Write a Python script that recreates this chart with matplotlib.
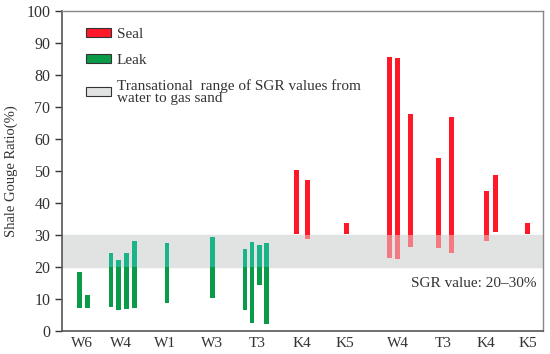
import matplotlib.pyplot as plt
from matplotlib.patches import Patch
import numpy as np

plt.rcParams['font.family'] = ['Liberation Serif', 'DejaVu Serif']

# x-axis groups (positions along the section)
group_labels = ['W6', 'W4', 'W1', 'W3', 'T3', 'K4', 'K5', 'W4', 'T3', 'K4', 'K5']
group_pos = [19.7, 58.7, 103, 149.7, 194.7, 239.7, 283, 336, 380.7, 424, 465.7]

# leak (green) bars: position, bottom, top of SGR range (%)
leak_x = [17.5, 25.2, 48.8, 56.5, 64.2, 72.2, 105, 150.3, 182.7, 189.7, 197, 204]
leak_lo = [7.3, 7.1, 7.5, 6.5, 7.0, 7.3, 8.7, 10.4, 6.6, 2.6, 14.4, 2.3]
leak_hi = [18.4, 11.2, 24.3, 22.3, 24.3, 28.2, 27.6, 29.4, 25.5, 27.9, 27.0, 27.6]

# seal (red) bars
seal_x = [234.7, 245.5, 284.3, 326.7, 335.3, 348.2, 376.5, 389.5, 424, 433.5, 465.5]
seal_lo = [30.4, 28.7, 30.4, 22.7, 22.5, 26.4, 25.9, 24.4, 28.1, 30.9, 30.4]
seal_hi = [50.4, 47.3, 33.6, 85.5, 85.3, 67.9, 54.0, 66.9, 43.8, 48.9, 33.6]

band_lo, band_hi = 20, 30

fig = plt.figure(figsize=(5.5, 3.54), dpi=100)
ax = fig.add_axes([0.113, 0.065, 0.875, 0.904])

ax.axhspan(band_lo, band_hi, color='#e1e3e3', zorder=1)


def draw_bars(xs, lo, hi, col, col_band, w):
    xs, lo, hi = np.array(xs), np.array(lo), np.array(hi)
    # part below band
    b_top = np.minimum(hi, band_lo)
    m = b_top > lo
    ax.bar(xs[m], (b_top - lo)[m], bottom=lo[m], width=w, color=col, zorder=2)
    # part inside band (lighter)
    i_lo = np.maximum(lo, band_lo)
    i_hi = np.minimum(hi, band_hi)
    m = i_hi > i_lo
    ax.bar(xs[m], (i_hi - i_lo)[m], bottom=i_lo[m], width=w, color=col_band, zorder=2)
    # part above band
    a_lo = np.maximum(lo, band_hi)
    m = hi > a_lo
    ax.bar(xs[m], (hi - a_lo)[m], bottom=a_lo[m], width=w, color=col, zorder=2)


draw_bars(leak_x, leak_lo, leak_hi, '#0a9b48', '#1bb38a', 4.5)
draw_bars(seal_x, seal_lo, seal_hi, '#fe1828', '#f47a82', 5)

ax.set_xlim(0, 481)
ax.set_ylim(0, 100)
ax.set_yticks(np.arange(0, 101, 10))
ax.set_xticks(group_pos)
ax.set_xticklabels(group_labels)
ax.tick_params(axis='x', length=0, labelsize=11, colors='#333333', pad=4)
ax.tick_params(axis='y', length=5, width=1, labelsize=11.5, colors='#333333', direction='out')
ax.set_ylabel('Shale Gouge Ratio(%)', fontsize=10.5, color='#333333', labelpad=6)

for s in ['left', 'bottom']:
    ax.spines[s].set_color('#555555')
    ax.spines[s].set_linewidth(1.2)
for s in ['top', 'right']:
    ax.spines[s].set_color('#888888')
    ax.spines[s].set_linewidth(1.0)

handles = [Patch(facecolor='#fe1828', edgecolor='#333333', lw=0.8),
           Patch(facecolor='#0a9b48', edgecolor='#333333', lw=0.8),
           Patch(facecolor='#e1e3e3', edgecolor='#333333', lw=0.8)]
labels = ['Seal', 'Leak',
          'Transational  range of SGR values from\nwater to gas sand']
leg = ax.legend(handles, labels, loc='upper left', bbox_to_anchor=(0.037, 0.965),
                frameon=False, fontsize=11, handlelength=1.65, handleheight=0.55,
                handletextpad=0.35, labelspacing=0.8, borderaxespad=0)
for t in leg.get_texts():
    t.set_color('#333333')
    t.set_linespacing(0.95)

ax.text(0.985, 0.148, 'SGR value: 20\u201330%', transform=ax.transAxes,
        ha='right', va='center', fontsize=11, color='#333333')

fig.savefig('out.png', dpi=100)
